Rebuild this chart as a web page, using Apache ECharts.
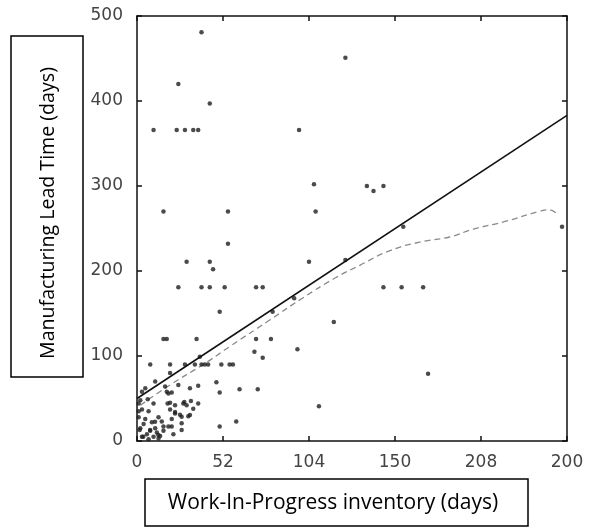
<!DOCTYPE html>
<html>
<head>
<meta charset="utf-8">
<script src="https://cdn.jsdelivr.net/npm/echarts@6/dist/echarts.min.js"></script>
<style>html,body{margin:0;padding:0;background:#fff;}#c{width:590px;height:527px;}</style>
</head>
<body>
<div id="c"></div>
<script>
const xTickValues = [0, 52, 104, 156, 208, 260];
const xTickLabels = ['0', '52', '104', '150', '208', '200'];
const yTickLabels = ['0', '100', '200', '300', '400', '500'];
const xTitle = 'Work-In-Progress inventory (days)';
const yTitle = 'Manufacturing Lead Time (days)';

// scatter points: WIP (days), lead time (days)
const wipDays = [39,126,25,44,10,24,29,34,37,98,107,139,143,149,16,55,108,257,55,30,44,104,46,25,39,44,53,72,76,149,160,173,50,119,16,18,36,72,81,97,71,76,38,8,20,29,35,39,41,43,51,56,58,20,11,48,37,32,50,62,73,110,60,50,176,95,82,161,126,
  17,25,19,21,6.5,10,1,18.5,23,28.6,30,34,37,3,7,20,23,26,31,13,1,5,15,21,27,19,11,2,6,10,14,3,8,27,1,2,18,20,28,32.6,23,27,32,10.9,16,21,7.9,12.9,3.8,1.6,4,9,12,16,7,13,22,3,5];
const leadDays = [481,451,420,397,366,366,366,366,366,366,302,300,294,300,270,270,270,252,232,211,211,211,202,181,181,181,181,181,181,181,181,181,152,140,120,120,120,120,120,108,105,98,99,90,90,90,90,90,90,90,90,90,90,80,70,69,65,62,57,61,61,41,23,17,79,168,152,252,213,
  64,66,56,57,49,44,44,44,42,46,42,38,44,37,35,37,34,31,29,28,28,26,23,26,21,17,15,15,8,5,6,5,12,13,35,48,58,45,44,47,32.5,28.6,30.6,22.7,17,17,13,7,5,13,20,22,10,12,2,3,8,58,62];

// regression line end points
const fitX = [0, 260];
const fitY = [50, 383];

// smoothed curve
const curveX = [2, 20, 40, 56, 80, 100, 120, 135, 153, 171, 189, 203, 222, 243, 249, 254];
const curveY = [42, 66, 90, 111, 142, 168, 192, 207, 224, 234, 240, 249, 258, 270, 272, 267];

const pts = wipDays.map((x, i) => [x, leadDays[i]]);
const fit = fitX.map((x, i) => [x, fitY[i]]);
const curve = curveX.map((x, i) => [x, curveY[i]]);

const chart = echarts.init(document.getElementById('c'));
const axisLabelFont = { fontFamily: 'DejaVu Sans', fontSize: 17, color: '#444' };
const lineStyle = { color: '#111', width: 1.5 };
function xAx(pos, showLabel) {
  return {
    type: 'value', position: pos, min: 0, max: 260, interval: 52,
    axisLine: { show: true, onZero: false, lineStyle },
    axisTick: { show: true, inside: true, length: 5, lineStyle },
    splitLine: { show: false },
    axisLabel: Object.assign({ show: showLabel, margin: 13,
      formatter: v => { const k = xTickValues.indexOf(v); return k >= 0 ? xTickLabels[k] : ''; } }, axisLabelFont)
  };
}
function yAx(pos, showLabel) {
  return {
    type: 'value', position: pos, min: 0, max: 500, interval: 100,
    axisLine: { show: true, onZero: false, lineStyle },
    axisTick: { show: true, inside: true, length: 5, lineStyle },
    splitLine: { show: false },
    axisLabel: Object.assign({ show: showLabel, margin: 14,
      formatter: v => yTickLabels[Math.round(v / 100)] }, axisLabelFont)
  };
}
chart.setOption({
  animation: false,
  grid: { left: 137, right: 23, top: 16, bottom: 86, containLabel: false, outerBoundsMode: 'none' },
  xAxis: [xAx('bottom', true), xAx('top', false)],
  yAxis: [yAx('left', true), yAx('right', false)],
  series: [
    { type: 'scatter', data: pts, symbol: 'circle', symbolSize: 4.5, itemStyle: { color: '#1e1e1e' }, z: 3 },
    { type: 'line', data: fit, symbol: 'none', lineStyle: { color: '#111', width: 1.6 }, z: 4 },
    { type: 'line', data: curve, symbol: 'none', smooth: true, lineStyle: { color: '#8a8a8a', width: 1.3, type: [6, 4] }, z: 2 }
  ],
  graphic: [
    { type: 'rect', shape: { x: 11, y: 36, width: 72, height: 341 }, style: { fill: '#fff', stroke: '#000', lineWidth: 1.5 } },
    { type: 'text', x: 48, y: 213, rotation: Math.PI / 2,
      style: { text: yTitle, font: '19.6px "Open Sans"', fill: '#000', align: 'center', verticalAlign: 'middle' } },
    { type: 'rect', shape: { x: 145, y: 479, width: 383, height: 47 }, style: { fill: '#fff', stroke: '#000', lineWidth: 1.5 } },
    { type: 'text', x: 333, y: 503,
      style: { text: xTitle, font: '21px "Open Sans"', fill: '#000', align: 'center', verticalAlign: 'middle' } }
  ]
});
</script>
</body>
</html>
